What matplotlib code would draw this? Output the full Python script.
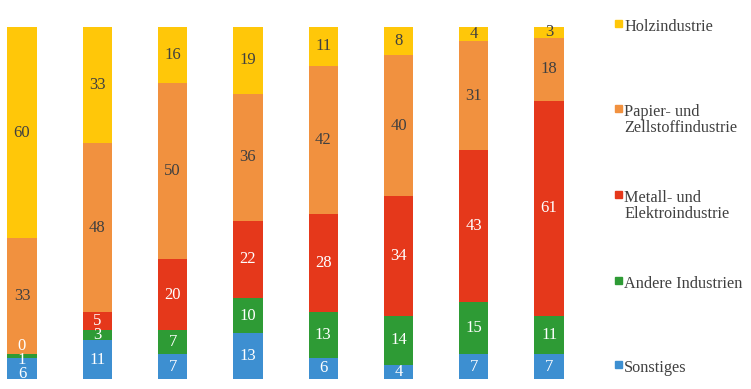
import numpy as np
import matplotlib.pyplot as plt
from matplotlib.patches import Rectangle

plt.rcParams['font.family'] = ['Liberation Serif', 'DejaVu Serif']

# Anteile in %, von unten nach oben gestapelt
kategorien = ["Sonstiges", "Andere Industrien", "Metall- und\nElektroindustrie",
              "Papier- und\nZellstoffindustrie", "Holzindustrie"]
sonstiges = [6, 11, 7, 13, 6, 4, 7, 7]
andere = [1, 3, 7, 10, 13, 14, 15, 11]
metall = [0, 5, 20, 22, 28, 34, 43, 61]
papier = [33, 48, 50, 36, 42, 40, 31, 18]
holz = [60, 33, 16, 19, 11, 8, 4, 3]

serien = [sonstiges, andere, metall, papier, holz]
farben = ['#3d8fd1', '#2e9b35', '#e5381b', '#f1913f', '#ffc709']
textfarben = ['white', 'white', 'white', '#404040', '#404040']

# kleine Verschiebung (in Punkten) für die engen Beschriftungen im ersten Balken
verschiebung = {(0, 0): -4, (1, 0): -3, (2, 0): 6}

fig = plt.figure(figsize=(7.51, 3.89), dpi=100)
ax = fig.add_axes([0, 10 / 389, 590 / 751, 352 / 389])

x = np.arange(len(holz))
unten = np.zeros(len(x))
for s, (werte, farbe, tf) in enumerate(zip(serien, farben, textfarben)):
    werte = np.array(werte, dtype=float)
    ax.bar(x, werte, 0.39, bottom=unten, color=farbe)
    for xi, u, w in zip(x, unten, werte):
        ax.annotate(f"{int(w)}", (xi, u + w / 2), xytext=(0, verschiebung.get((s, xi), 0)),
                    textcoords='offset points', ha='center', va='center',
                    color=tf, fontsize=12)
    unten += werte

ax.set_xlim(-22 / 75.3, 568 / 75.3)
ax.set_ylim(0, 100)
ax.axis('off')

# Legende rechts (Oberkante der Großbuchstaben in Pixeln)
legende_y = [20, 105, 191, 277, 361]
for name, farbe, ly in zip(kategorien[::-1], farben[::-1], legende_y):
    fig.patches.append(Rectangle((615 / 751, 1 - (ly + 7) / 389), 7 / 751, 7 / 389,
                                 transform=fig.transFigure, color=farbe))
    fig.text(624 / 751, 1 - (ly - 1) / 389, name, ha='left', va='top',
             fontsize=11.7, color='#404040', linespacing=1.0)

plt.savefig('out.png', dpi=100)
